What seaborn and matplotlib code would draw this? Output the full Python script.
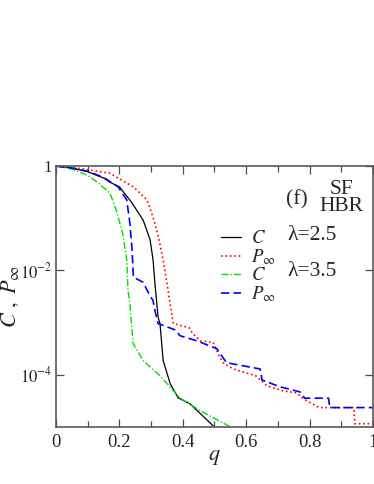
import numpy as np
import pandas as pd
import matplotlib
matplotlib.use("Agg")
import matplotlib.pyplot as plt
import seaborn as sns
from matplotlib.ticker import FixedLocator, FixedFormatter, MultipleLocator, FuncFormatter

# C, lambda = 2.5 (black solid)
q_c25 = [0.0, 0.05, 0.10, 0.15, 0.17, 0.20, 0.24, 0.275, 0.297, 0.306, 0.312, 0.322,
         0.328, 0.338, 0.36, 0.385, 0.423, 0.496]
logv_c25 = [0.0, -0.04, -0.11, -0.23, -0.31, -0.40, -0.71, -1.04, -1.42, -1.80, -2.25, -2.90,
            -3.02, -3.73, -4.17, -4.44, -4.56, -4.98]

# P_inf, lambda = 2.5 (red dotted)
q_p25 = [0.0, 0.08, 0.17, 0.244, 0.287, 0.306, 0.323, 0.338, 0.35, 0.36, 0.37, 0.42, 0.43,
         0.455, 0.496, 0.517, 0.53, 0.56, 0.63, 0.665, 0.716, 0.76, 0.78, 0.83, 0.94,
         0.943, 1.0]
logv_p25 = [0.0, -0.05, -0.14, -0.40, -0.65, -0.98, -1.36, -1.80, -2.25, -2.64, -3.02, -3.10,
            -3.20, -3.35, -3.38, -3.67, -3.79, -3.89, -4.02, -4.21, -4.31, -4.35, -4.46,
            -4.63, -4.63, -4.94, -4.94]

# C, lambda = 3.5 (green dash-dot)
q_c35 = [0.0, 0.05, 0.10, 0.13, 0.17, 0.19, 0.21, 0.223, 0.227, 0.233, 0.243, 0.275,
         0.328, 0.39, 0.455, 0.55]
logv_c35 = [0.0, -0.06, -0.18, -0.31, -0.52, -0.85, -1.29, -1.80, -2.38, -2.64, -3.40, -3.73,
            -4.02, -4.44, -4.69, -5.0]

# P_inf, lambda = 3.5 (blue dashed)
q_p35 = [0.0, 0.05, 0.10, 0.15, 0.196, 0.223, 0.233, 0.24, 0.244, 0.275, 0.287, 0.306,
         0.312, 0.322, 0.38, 0.39, 0.444, 0.507, 0.538, 0.644, 0.65, 0.706, 0.77, 0.785,
         0.86, 0.864, 1.0]
logv_p35 = [0.0, -0.04, -0.10, -0.22, -0.40, -0.65, -1.10, -1.62, -2.13, -2.23, -2.38, -2.58,
            -2.77, -3.02, -3.15, -3.25, -3.35, -3.50, -3.77, -3.89, -4.10, -4.23, -4.33,
            -4.45, -4.45, -4.63, -4.63]

y_ticks = [1.0, 1e-2, 1e-4]
y_tick_labels = ["1", r"$10^{-2}$", r"$10^{-4}$"]

sns.set_style("ticks")
plt.rcParams["font.family"] = ["Liberation Serif", "DejaVu Serif"]
plt.rcParams["mathtext.fontset"] = "stix"

fig = plt.figure(figsize=(3.74, 4.84), dpi=100)
ax = fig.add_axes([0.150, 0.118, 0.847, 0.539])

series = [
    (q_c25, logv_c25, "black", "-", 0.9),
    (q_p25, logv_p25, "red", ":", 1.2),
    (q_c35, logv_c35, "#00e000", (0, (5, 1.5, 1, 1.5)), 1.0),
    (q_p35, logv_p35, "blue", (0, (5, 2.5)), 1.2),
]
handles = []
for q, lv, col, ls, lw in series:
    df = pd.DataFrame({"q": q, "v": 10.0 ** np.array(lv)})
    sns.lineplot(data=df, x="q", y="v", ax=ax, color=col, linestyle=ls,
                 linewidth=lw, estimator=None, sort=False)
    handles.append(ax.lines[-1])

ax.set_yscale("log")
ax.set_xlim(0, 1)
ax.set_ylim(1e-5, 1)

ax.xaxis.set_major_locator(MultipleLocator(0.2))
ax.xaxis.set_minor_locator(MultipleLocator(0.1))
ax.xaxis.set_major_formatter(FuncFormatter(lambda v, p: f"{v:g}" if abs(v) > 1e-9 else "0"))
ax.yaxis.set_major_locator(FixedLocator(y_ticks))
ax.yaxis.set_major_formatter(FixedFormatter(y_tick_labels))
ax.yaxis.set_minor_locator(FixedLocator([]))

ax.tick_params(which="both", direction="in", top=True, right=True,
               color="0.3", pad=5)
ax.tick_params(axis="x", labelsize=13.5)
ax.tick_params(axis="y", labelsize=12, pad=3)
ax.tick_params(which="major", length=6, width=0.9)
ax.tick_params(which="minor", length=4, width=0.9)
for sp in ax.spines.values():
    sp.set_color("0.35")
    sp.set_linewidth(1.2)

ax.set_xlabel(r"$q$", fontsize=16, labelpad=-2)
ax.set_ylabel(r"$C\ ,\ P_\infty$", fontsize=16)
ax.yaxis.set_label_coords(-0.11, 0.5)

leg = ax.legend(handles, [r"$C$", r"$P_\infty$", r"$C$", r"$P_\infty$"],
                loc="upper left", bbox_to_anchor=(0.49, 0.79), frameon=False,
                fontsize=13.5, handlelength=1.1, handletextpad=0.5,
                labelspacing=0.0, borderpad=0)

ax.text(0.73, 0.735, "λ=2.5", transform=ax.transAxes, fontsize=15.5, va="center")
ax.text(0.73, 0.595, "λ=3.5", transform=ax.transAxes, fontsize=15.5, va="center")
ax.text(0.76, 0.87, "(f)", transform=ax.transAxes, fontsize=15.5, va="center", ha="center")
ax.text(0.9, 0.878, "SF\nHBR", transform=ax.transAxes, fontsize=15.5, va="center",
        ha="center", multialignment="center", linespacing=0.85)

fig.savefig("out.png", dpi=100)
